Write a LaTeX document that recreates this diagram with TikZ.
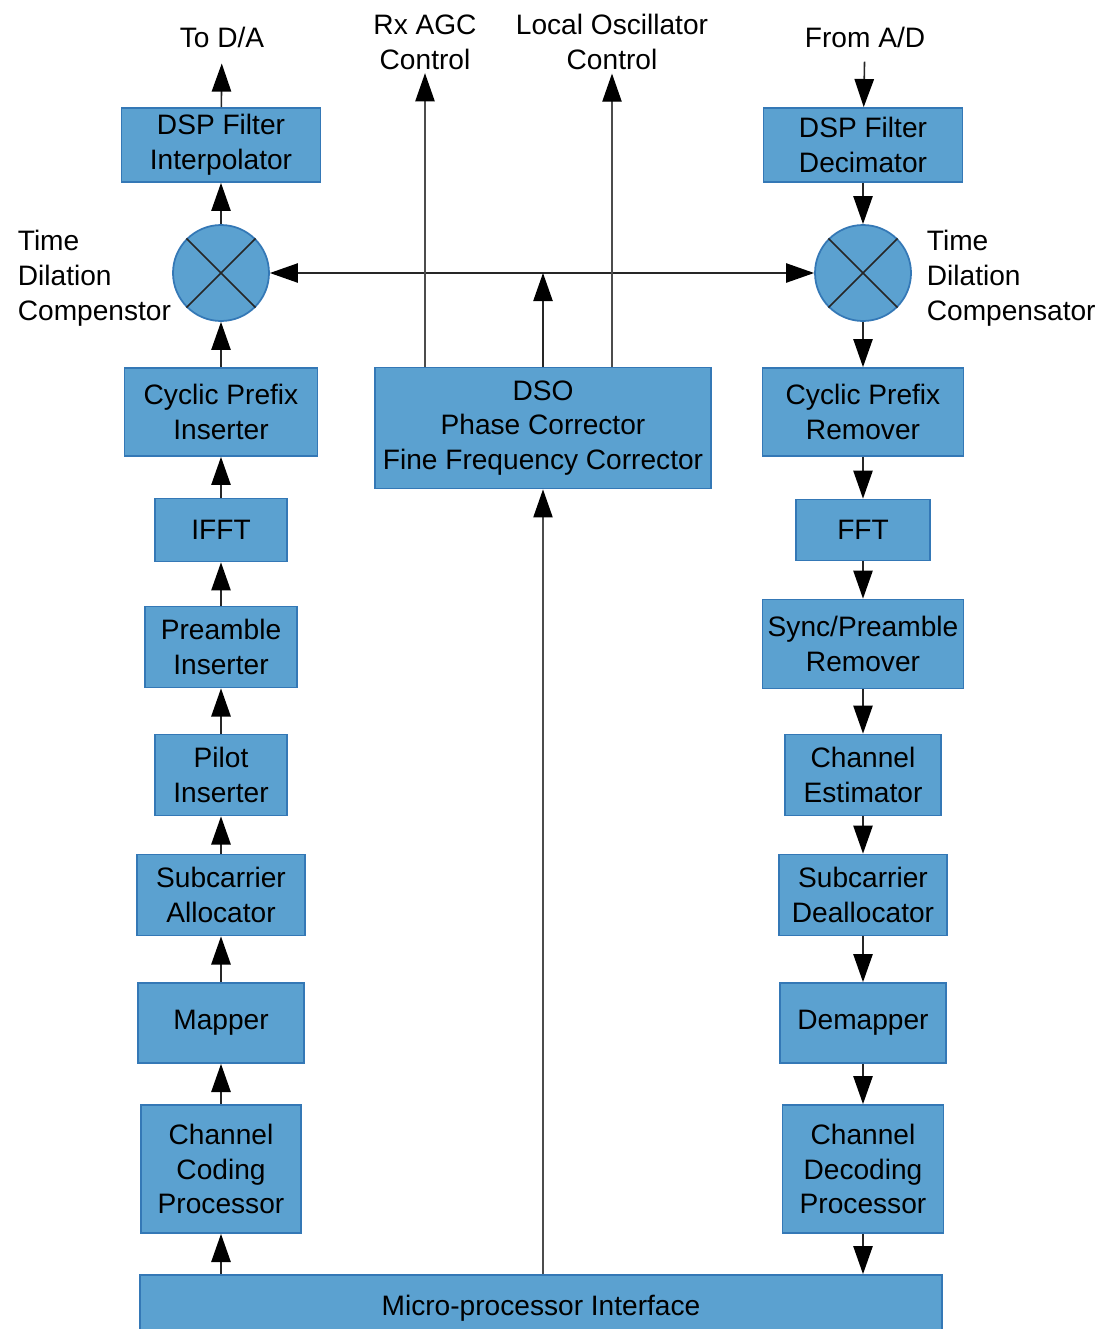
\documentclass[tikz,border=0pt]{standalone}
\usepackage{fontspec}
\setmainfont{Liberation Sans}
\usepackage{xcolor}
\usetikzlibrary{arrows.meta}

\definecolor{blkfill}{RGB}{91,161,208}
\definecolor{blkline}{RGB}{52,120,182}
\newcommand{\blkfont}{\fontsize{16}{19.8}\selectfont}

\tikzset{
  blk/.style 2 args={draw=blkline,fill=blkfill,line width=1pt,
    minimum width=#1*0.02cm,minimum height=#2*0.02cm,inner sep=0pt,
    align=center,font=\blkfont},
  mix/.style={circle,draw=blkline,fill=blkfill,line width=1pt,
    minimum size=96*0.02cm,inner sep=0pt},
  lbl/.style={align=center,font=\blkfont,inner sep=2pt},
  arr/.style={-{Triangle[length=16pt,width=11pt,color=black]},line width=0.9pt,black!85},
  arrs/.style={{Triangle[length=16pt,width=11pt,color=black]}-{Triangle[length=16pt,width=11pt,color=black]},line width=0.9pt,black!85},
  thinarr/.style={arr,line width=0.7pt,black!70},
}

\begin{document}
\begin{tikzpicture}[x=0.02cm,y=-0.02cm]
  \useasboundingbox (0,0) rectangle (1118,1329);
  \clip (0,0) rectangle (1118,1329);

  \node[lbl] (toda) at (222,37) {To D/A};
  \node[lbl] (agc) at (425,42) {Rx AGC\\Control};
  \node[lbl] (lo) at (612,42) {Local Oscillator\\Control};
  \node[lbl] (fromad) at (865,37) {From A/D};

  \node[blk={199}{74}] (interp) at (221,145) {DSP Filter\\Interpolator};
  \node[mix] (mixl) at (221,273) {};
  \node[blk={193}{88}] (cpi) at (221,412) {Cyclic Prefix\\Inserter};
  \node[blk={132}{63}] (ifft) at (221,530) {IFFT};
  \node[blk={152}{81}] (pre) at (221,647) {Preamble\\Inserter};
  \node[blk={132}{81}] (pil) at (221,775) {Pilot\\Inserter};
  \node[blk={168}{81}] (sca) at (221,895) {Subcarrier\\Allocator};
  \node[blk={166}{80}] (map) at (221,1023) {Mapper};
  \node[blk={160}{128}] (cc) at (221,1169) {Channel\\Coding\\Processor};
  \node[lbl,anchor=west,align=left] (tdl) at (14,278) {Time\\Dilation\\Compenstor};

  \node[blk={199}{74}] (dec) at (863,145) {DSP Filter\\Decimator};
  \node[mix] (mixr) at (863,273) {};
  \node[blk={201}{88}] (cpr) at (863,412) {Cyclic Prefix\\Remover};
  \node[blk={134}{61}] (fft) at (863,530) {FFT};
  \node[blk={201}{89}] (sync) at (863,644) {Sync/Preamble\\Remover};
  \node[blk={156}{81}] (ce) at (863,775) {Channel\\Estimator};
  \node[blk={168}{81}] (scd) at (863,895) {Subcarrier\\Deallocator};
  \node[blk={166}{80}] (dmap) at (863,1023) {Demapper};
  \node[blk={161}{128}] (cd) at (863,1169) {Channel\\Decoding\\Processor};
  \node[lbl,anchor=west,align=left] (tdr) at (923,278) {Time\\Dilation\\Compensator};

  \node[blk={336}{121}] (dso) at (543,428) {DSO\\Phase Corrector\\Fine Frequency Corrector};
  \node[blk={802}{66}] (micro) at (541,1308) {Micro-processor Interface};

  \draw[line width=0.9pt,black!85] (mixl.45) -- (mixl.225) (mixl.135) -- (mixl.315);
  \draw[line width=0.9pt,black!85] (mixr.45) -- (mixr.225) (mixr.135) -- (mixr.315);

  \draw[arr,shorten >=7pt] (interp) -- (toda);
  \draw[arr] (mixl) -- (interp);
  \draw[arr] (cpi) -- (mixl);
  \draw[arr] (ifft) -- (cpi);
  \draw[arr] (pre) -- (ifft);
  \draw[arr] (pil) -- (pre);
  \draw[arr] (sca) -- (pil);
  \draw[arr] (map) -- (sca);
  \draw[arr] (cc) -- (map);
  \draw[arr] (micro.north -| cc) -- (cc);

  \draw[arr,shorten <=6pt] (fromad) -- (dec);
  \draw[arr] (dec) -- (mixr);
  \draw[arr] (mixr) -- (cpr);
  \draw[arr] (cpr) -- (fft);
  \draw[arr] (fft) -- (sync);
  \draw[arr] (sync) -- (ce);
  \draw[arr] (ce) -- (scd);
  \draw[arr] (scd) -- (dmap);
  \draw[arr] (dmap) -- (cd);
  \draw[arr] (cd) -- (cd |- micro.north);

  \draw[arrs] (mixl) -- (mixr);
  \path (dso.north |- mixl) coordinate (dsotap);
  \draw[arr] (dso.north) -- (dsotap);
  \draw[thinarr] (dso.north -| agc) -- (agc);
  \draw[thinarr] (dso.north -| lo) -- (lo);
  \draw[thinarr] (micro.north -| dso) -- (dso);
\end{tikzpicture}
\end{document}
